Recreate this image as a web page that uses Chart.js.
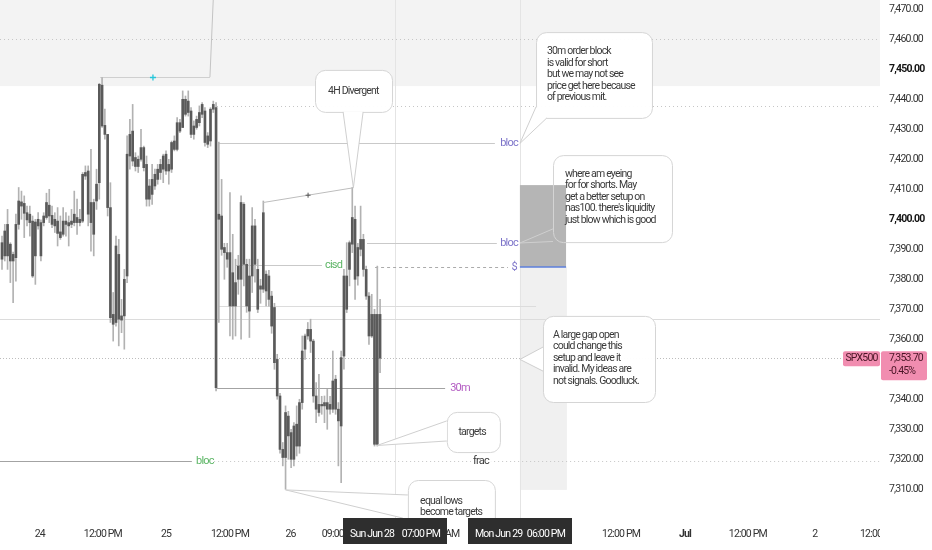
<!DOCTYPE html>
<html>
<head>
<meta charset="utf-8">
<script src="https://cdn.jsdelivr.net/npm/chart.js@4.4.1/dist/chart.umd.min.js"></script>
<style>
html,body{margin:0;padding:0;background:#fff;overflow:hidden}
#wrap{width:932px;height:550px;position:relative}
</style>
</head>
<body>
<div id="wrap"><canvas id="c" width="932" height="550"></canvas></div>
<script>
// ---------- DATA (30m candles, index 0 = first visible bar) ----------
const opens = [
7392.2,7387.8,7398.3,7391.7,7386.1,7387.2,7398.3,7405.8,7405.3,7402.2,
7398.9,7399.4,7387.8,7400.0,7398.9,7398.9,7400.6,7404.7,7401.3,7400.0,
7399.4,7395.8,7395.0,7399.4,7398.9,7398.3,7398.9,7400.6,7398.9,7399.4,
7415.6,7416.1,7398.9,7405.6,7406.1,7412.2,7444.7,7431.3,7428.3,7403.9,
7368.3,7365.6,7388.3,7366.4,7367.8,7381.1,7421.1,7429.4,7420.6,7417.6,
7420.0,7423.9,7418.3,7406.7,7408.3,7411.1,7413.3,7415.6,7416.7,7421.7,
7416.1,7416.7,7426.1,7423.3,7432.2,7430.6,7440.0,7435.6,7436.1,7428.3,
7430.6,7432.2,7435.0,7436.1,7427.8,7426.1,7436.7,7437.2,7400.0,7401.1,
7390.6,7388.9,7388.9,7371.1,7378.9,7380.0,7380.0,7405.0,7385.0,7369.4,
7381.1,7397.8,7383.3,7376.7,7376.7,7376.1,7381.1,7374.4,7370.6,7353.3,
7341.1,7323.3,7320.6,7334.4,7328.9,7320.0,7331.7,7324.4,7338.9,7356.7,
7361.1,7363.3,7359.4,7341.1,7335.6,7338.3,7337.8,7336.7,7338.3,7336.7,
7346.7,7336.7,7331.1,7354.4,7381.1,7383.3,7391.7,7400.0,7381.1,7390.0,
7393.3,7383.3,7374.4,7361.1,7368.3,7325.0,7368.3];
const highs = [
7394.4,7398.3,7403.3,7392.2,7389.1,7401.7,7410.6,7409.4,7407.8,7404.4,
7404.4,7401.1,7400.0,7402.2,7399.8,7402.2,7408.7,7410.0,7404.4,7402.2,
7403.9,7401.1,7403.9,7402.2,7401.1,7403.3,7409.4,7406.7,7403.3,7415.6,
7417.8,7417.8,7423.3,7406.7,7416.7,7445.3,7447.2,7436.7,7428.3,7412.2,
7375.6,7394.4,7393.3,7373.3,7383.3,7427.8,7433.3,7438.3,7422.2,7421.1,
7430.0,7424.4,7421.1,7413.3,7418.3,7416.7,7418.3,7420.0,7421.7,7422.8,
7420.0,7426.1,7427.8,7433.9,7433.3,7442.8,7441.1,7442.8,7437.2,7432.8,
7434.4,7437.8,7438.9,7437.2,7428.9,7437.2,7439.4,7438.9,7425.7,7413.3,
7392.0,7392.0,7408.9,7395.0,7386.7,7388.0,7407.8,7405.6,7386.7,7386.7,
7403.9,7400.0,7386.7,7380.0,7406.1,7382.8,7383.0,7376.0,7372.0,7355.0,
7342.0,7325.6,7337.8,7336.0,7330.0,7332.2,7337.8,7340.0,7361.1,7361.7,
7365.6,7366.7,7360.0,7345.6,7348.3,7341.0,7341.1,7343.3,7341.0,7356.1,
7348.0,7338.9,7356.1,7383.3,7392.2,7392.8,7410.6,7404.4,7392.0,7404.4,
7395.0,7384.4,7375.6,7375.0,7370.0,7384.4,7373.3];
const lows = [
7383.3,7386.1,7383.3,7378.9,7372.2,7379.4,7396.7,7400.0,7393.9,7397.8,
7394.4,7380.6,7378.3,7396.7,7386.1,7397.8,7400.0,7398.9,7397.2,7395.6,
7391.1,7393.3,7394.4,7394.4,7391.1,7397.2,7397.8,7395.0,7397.8,7398.9,
7413.3,7397.8,7389.4,7387.8,7403.3,7406.7,7430.6,7426.7,7401.1,7365.6,
7359.4,7364.4,7357.8,7362.2,7356.7,7378.9,7416.7,7417.8,7416.1,7415.6,
7419.4,7416.1,7404.4,7404.4,7405.0,7410.0,7411.7,7413.3,7412.2,7415.0,
7411.7,7415.6,7422.8,7422.8,7428.9,7430.6,7434.4,7434.4,7427.2,7426.7,
7430.0,7431.1,7433.9,7424.4,7423.9,7424.4,7435.6,7342.8,7365.6,7388.0,
7380.0,7384.0,7361.1,7360.0,7361.1,7375.0,7360.0,7377.8,7369.0,7360.6,
7375.6,7379.0,7368.9,7372.0,7375.6,7371.1,7371.0,7362.0,7350.0,7340.0,
7322.0,7317.8,7310.0,7320.0,7317.2,7317.8,7321.1,7322.0,7336.7,7353.3,
7360.0,7355.6,7339.0,7332.2,7334.4,7335.0,7332.2,7330.0,7335.0,7335.6,
7335.0,7317.8,7312.2,7350.0,7368.9,7377.8,7388.9,7373.3,7378.0,7387.8,
7381.0,7373.3,7358.3,7360.6,7324.4,7324.4,7348.9];
const closes = [
7386.7,7396.1,7387.8,7386.1,7388.3,7398.3,7406.1,7404.4,7402.0,7399.8,
7401.7,7381.1,7399.1,7397.8,7387.8,7401.1,7405.6,7401.1,7398.3,7397.8,
7395.3,7393.9,7399.4,7398.3,7397.8,7399.4,7401.7,7398.9,7400.0,7415.0,
7414.4,7401.7,7405.6,7395.0,7411.7,7445.0,7431.1,7428.3,7403.9,7367.2,
7365.0,7391.1,7366.7,7367.8,7380.0,7421.7,7428.3,7419.4,7417.6,7420.0,
7423.9,7417.2,7406.7,7411.1,7413.3,7415.0,7416.7,7418.3,7421.1,7416.1,
7418.3,7425.6,7423.3,7432.2,7429.4,7440.0,7435.0,7439.4,7428.3,7431.1,
7433.3,7435.6,7438.3,7425.6,7425.0,7436.7,7438.3,7343.9,7401.7,7390.0,
7388.9,7386.7,7371.1,7382.2,7371.1,7384.4,7405.6,7385.0,7371.1,7381.1,
7397.8,7385.0,7370.0,7377.8,7402.2,7381.7,7373.3,7364.4,7352.2,7341.1,
7323.3,7320.6,7335.6,7327.8,7320.0,7331.1,7324.4,7338.9,7356.1,7361.1,
7363.3,7359.4,7341.1,7336.7,7338.3,7337.8,7338.9,7338.9,7336.7,7346.1,
7336.7,7332.8,7353.9,7381.1,7370.0,7392.2,7400.6,7380.0,7390.6,7393.3,
7383.3,7374.4,7361.1,7368.3,7325.0,7368.3,7353.7];

const yTicks = [7310,7320,7330,7340,7350,7360,7370,7380,7390,7400,7410,7420,7430,7440,7450,7460,7470];
const yBold = [7400, 7450];
const xTickPos  = [13.6, 36.3, 59.0, 82.0, 103.8, 121.9, 157.6, 222.7, 245.7, 268.3, 292.4, 315.5];
const xTickText = ['24','12:00 PM','25','12:00 PM','26','09:00 AM','06:00 AM','12:00 PM','Jul','12:00 PM','2','12:00 PM'];
const xBold = ['Jul'];

const symbol = 'SPX500';
const lastPrice = 7353.70;
const changePct = -0.45;

// date markers on the time axis (bar index)
const dateMarks = [
  {i: 141.2, d: 'Sun Jun 28', t: '07:00 PM'},
  {i: 186.3, d: 'Mon Jun 29', t: '06:00 PM'}
];

// horizontal drawings: price, from bar, to bar (null = chart edge)
const levels = [
  {p: 7460.0, from: null,  to: null,  kind: 'dot'},
  {p: 7447.4, from: 35.3,  to: 74.8,  kind: 'thin'},
  {p: 7437.8, from: 75.9,  to: null,  kind: 'dot'},
  {p: 7425.4, from: 77.7,  to: 177.3, kind: 'solid'},
  {p: 7392.0, from: 131.3, to: 178.0, kind: 'solid'},
  {p: 7384.8, from: 83.8,  to: 115.1, kind: 'solid'},
  {p: 7384.1, from: 134.2, to: 182.0, kind: 'dash'},
  {p: 7371.0, from: 77.7,  to: 192.1, kind: 'faint'},
  {p: 7366.7, from: null,  to: null,  kind: 'faint'},
  {p: 7353.7, from: null,  to: null,  kind: 'pdot'},
  {p: 7343.8, from: 77.3,  to: 159.4, kind: 'dark'},
  {p: 7319.4, from: null,  to: 68.3,  kind: 'dark'},
  {p: 7319.4, from: 76.3,  to: null,  kind: 'dot'}
];
const tags = [
  {t: 'bloc', i: 182.4, p: 7425.4, c: 'purple', align: 'center'},
  {t: 'bloc', i: 182.4, p: 7392.0, c: 'purple', align: 'center'},
  {t: '$',    i: 184.2, p: 7384.1, c: 'purple', align: 'center'},
  {t: 'cisd', i: 116.2, p: 7384.8, c: 'green',  align: 'left'},
  {t: '30m',  i: 161.2, p: 7343.8, c: 'magenta',align: 'left'},
  {t: 'bloc', i: 73.0,  p: 7319.4, c: 'green',  align: 'center'},
  {t: 'frac', i: 172.3, p: 7319.4, c: 'text',   align: 'center'}
];
const callouts = [
  {lines: ['30m order block','is valid for short','but we may not see','price get here because','of previous mit.'],
   box: [192.1, 7462.4, 233.8, 7433.8], tip: [186.3, 7425.3], base: [[192.1, 7437.5], [196.0, 7433.8]],
   tx: 196.0, ty: 7455.9, align: 'left', fill: true},
  {lines: ['4H Divergent'],
   box: [112.6, 7449.8, 140.3, 7435.8], tip: [126.4, 7410.5], base: [[122.7, 7435.8], [129.9, 7435.8]],
   tx: 126.4, ty: 7442.8, align: 'center', fill: true},
  {lines: ['where am eyeing','for for shorts. May','get a better setup on',"nas100. there's liquidity",'just blow which is good'],
   box: [198.2, 7421.4, 241.0, 7392.4], tip: [186.3, 7392.1], base: [[198.2, 7396.8], [198.2, 7392.6]],
   tx: 202.5, ty: 7415.0, align: 'left', fill: false},
  {lines: ['A large gap open','could change this','setup and leave it','invalid. My ideas are','not signals. Goodluck.'],
   box: [194.6, 7367.8, 234.9, 7339.1], tip: [186.3, 7353.3], base: [[194.6, 7357.4], [194.6, 7349.4]],
   tx: 198.2, ty: 7361.4, align: 'left', fill: true},
  {lines: ['targets'],
   box: [160.0, 7335.8, 179.1, 7322.4], tip: [134.9, 7324.6], base: [[160.0, 7332.8], [160.0, 7326.1]],
   tx: 169.1, ty: 7329.1, align: 'center', fill: true},
  {lines: ['equal lows','become targets'],
   box: [146.0, 7313.1, 177.3, 7294.0], tip: [102.0, 7309.8], base: [[146.0, 7308.1], [144.2, 7300.4]],
   tx: 150.4, ty: 7306.1, align: 'left', fill: true, step: 11}
];
const divergence = {from: [94.0, 7405.6], to: [126.4, 7410.5], mark: 110.1};
const pointerUp = {from: [74.8, 7447.4], to: [76.3, 7480]};
const crossMark = {i: 54.3, p: 7447.4};
const topZone = {pLow: 7444.4};
const zoneBox = {i0: 186.3, i1: 202.9, pLow: 7384.1, pHigh: 7411.4};
const zoneColumn = {i0: 186.3, i1: 203.2, pLow: 7309.8, pHigh: 7384.1};
const vLines = [141.2, 186.3];

// ---------- STYLE ----------
const FONT = 'Roboto';
const levelStyles = {
  dot:   {color: '#c6c6c6', dash: [1, 3]},
  pdot:  {color: '#bdbdbd', dash: [1, 2]},
  thin:  {color: '#cfcfcf'},
  solid: {color: '#c9c9c9'},
  faint: {color: '#dcdcdc'},
  dash:  {color: '#ababab', dash: [3, 3]},
  dark:  {color: '#a3a3a3'}
};
const tagColors = {purple: '#7d74c9', green: '#5cb565', magenta: '#b35cc2', text: '#3a3a3a'};

Chart.defaults.font.family = FONT;

const idx = opens.map((_, i) => i);
const bodyData = idx.map(i => ({x: i, y: [Math.min(opens[i], closes[i]), Math.max(opens[i], closes[i])]}));
const wickData = idx.map(i => ({x: i, y: [lows[i], highs[i]]}));

function rr(ctx, x, y, w, h, r) {
  ctx.beginPath();
  ctx.moveTo(x + r, y);
  ctx.arcTo(x + w, y, x + w, y + h, r);
  ctx.arcTo(x + w, y + h, x, y + h, r);
  ctx.arcTo(x, y + h, x, y, r);
  ctx.arcTo(x, y, x + w, y, r);
  ctx.closePath();
}
function clipArea(ctx, a) {
  ctx.beginPath(); ctx.rect(a.left, a.top, a.right - a.left, a.bottom - a.top); ctx.clip();
}

const overlay = {
  id: 'overlay',
  beforeDraw(chart) { chart.ctx.letterSpacing = '-0.8px'; },
  beforeDatasetsDraw(chart) {
    const {ctx, chartArea: a} = chart;
    const X = v => chart.scales.x.getPixelForValue(v), Y = v => chart.scales.y.getPixelForValue(v);
    ctx.save(); clipArea(ctx, a);
    // top zone
    ctx.fillStyle = '#f3f3f3';
    ctx.fillRect(a.left, a.top, a.right - a.left, Y(topZone.pLow) - a.top);
    // projection column
    ctx.fillStyle = '#f0f0f0';
    ctx.fillRect(X(zoneColumn.i0), Y(zoneColumn.pHigh), X(zoneColumn.i1) - X(zoneColumn.i0), Y(zoneColumn.pLow) - Y(zoneColumn.pHigh));
    // vertical date lines
    ctx.strokeStyle = '#e4e4e4'; ctx.lineWidth = 1;
    vLines.forEach(v => { const xx = Math.round(X(v)) + 0.5; ctx.beginPath(); ctx.moveTo(xx, a.top); ctx.lineTo(xx, a.bottom); ctx.stroke(); });
    // horizontal levels
    levels.forEach(l => {
      const st = levelStyles[l.kind];
      const yy = Math.round(Y(l.p)) + 0.5;
      const x0 = l.from == null ? a.left : X(l.from);
      const x1 = l.to == null ? a.right : X(l.to);
      ctx.strokeStyle = st.color; ctx.setLineDash(st.dash || []);
      ctx.beginPath(); ctx.moveTo(x0, yy); ctx.lineTo(x1, yy); ctx.stroke();
    });
    ctx.setLineDash([]);
    ctx.restore();
  },
  afterDatasetsDraw(chart) {
    const {ctx, chartArea: a} = chart;
    const X = v => chart.scales.x.getPixelForValue(v), Y = v => chart.scales.y.getPixelForValue(v);
    ctx.save(); clipArea(ctx, a);
    ctx.letterSpacing = '-0.8px';
    // pointer line going off the top
    ctx.strokeStyle = '#c4c4c4'; ctx.lineWidth = 1;
    ctx.beginPath(); ctx.moveTo(X(pointerUp.from[0]), Y(pointerUp.from[1])); ctx.lineTo(X(pointerUp.to[0]), Y(pointerUp.to[1])); ctx.stroke();
    // cyan cross
    const cx = X(crossMark.i), cy = Math.round(Y(crossMark.p)) + 0.5;
    ctx.strokeStyle = '#26c6da'; ctx.lineWidth = 1.3;
    ctx.beginPath(); ctx.moveTo(cx - 3, cy); ctx.lineTo(cx + 3, cy); ctx.moveTo(cx, cy - 3); ctx.lineTo(cx, cy + 3); ctx.stroke();
    // divergence line
    ctx.strokeStyle = '#bdbdbd'; ctx.lineWidth = 1;
    ctx.beginPath(); ctx.moveTo(X(divergence.from[0]), Y(divergence.from[1])); ctx.lineTo(X(divergence.to[0]), Y(divergence.to[1])); ctx.stroke();
    const t = (divergence.mark - divergence.from[0]) / (divergence.to[0] - divergence.from[0]);
    const mx = X(divergence.mark), my = Y(divergence.from[1] + t * (divergence.to[1] - divergence.from[1]));
    ctx.strokeStyle = '#555'; ctx.lineWidth = 1;
    ctx.beginPath(); ctx.moveTo(mx - 2.5, my); ctx.lineTo(mx + 2.5, my); ctx.moveTo(mx, my - 2.5); ctx.lineTo(mx, my + 2.5); ctx.stroke();
    // dark zone box
    const bx0 = X(zoneBox.i0), bx1 = X(zoneBox.i1), by0 = Y(zoneBox.pHigh), by1 = Y(zoneBox.pLow);
    ctx.fillStyle = '#b5b5b5'; ctx.fillRect(bx0, by0, bx1 - bx0, by1 - by0);
    ctx.strokeStyle = '#5d7fdc'; ctx.lineWidth = 1.5;
    ctx.beginPath(); ctx.moveTo(bx0, by1); ctx.lineTo(bx1, by1); ctx.stroke();
    // tags
    ctx.font = '11px ' + FONT; ctx.textBaseline = 'middle';
    tags.forEach(g => {
      const gx = X(g.i), gy = Y(g.p);
      ctx.textAlign = g.align;
      if (g.c === 'text') {
        const w = ctx.measureText(g.t).width;
        ctx.fillStyle = '#fff'; ctx.fillRect(gx - w / 2 - 2, gy - 6, w + 4, 12);
      }
      ctx.fillStyle = tagColors[g.c];
      ctx.fillText(g.t, gx, gy);
    });
    // callouts
    callouts.forEach(c => {
      const x0 = X(c.box[0]), y0 = Y(c.box[1]), x1 = X(c.box[2]), y1 = Y(c.box[3]);
      const tx = X(c.tip[0]), ty = Y(c.tip[1]);
      const b0 = [X(c.base[0][0]), Y(c.base[0][1])], b1 = [X(c.base[1][0]), Y(c.base[1][1])];
      rr(ctx, x0 + 0.5, y0 + 0.5, x1 - x0, y1 - y0, 10);
      if (c.fill) { ctx.fillStyle = 'rgba(255,255,255,0.96)'; ctx.fill(); }
      ctx.strokeStyle = '#d5d5d5'; ctx.lineWidth = 1; ctx.stroke();
      ctx.beginPath(); ctx.moveTo(b0[0], b0[1]); ctx.lineTo(tx, ty); ctx.lineTo(b1[0], b1[1]); ctx.closePath();
      if (c.fill) { ctx.fillStyle = '#fff'; ctx.fill(); }
      ctx.beginPath(); ctx.moveTo(b0[0], b0[1]); ctx.lineTo(tx, ty); ctx.lineTo(b1[0], b1[1]);
      ctx.strokeStyle = '#cfcfcf'; ctx.stroke();
      ctx.fillStyle = '#3b3b3b'; ctx.font = '10.5px ' + FONT; ctx.textBaseline = 'middle';
      ctx.textAlign = c.align;
      const step = c.step || 11.5;
      const tyy = Y(c.ty);
      c.lines.forEach((ln, k) => ctx.fillText(ln, X(c.tx), tyy + k * step));
    });
    ctx.restore();
  },
  afterDraw(chart) {
    const {ctx, chartArea: a} = chart;
    const X = v => chart.scales.x.getPixelForValue(v), Y = v => chart.scales.y.getPixelForValue(v);
    ctx.save();
    ctx.letterSpacing = '-0.8px';
    // hide the overflow of the last time label under the price scale
    ctx.fillStyle = '#fff'; ctx.fillRect(a.right, a.bottom, chart.width - a.right, chart.height - a.bottom);
    // date markers on the time axis
    ctx.font = '10.5px ' + FONT; ctx.textBaseline = 'middle';
    dateMarks.forEach(m => {
      const w = 104, bx = Math.round(X(m.i) - w / 2);
      ctx.fillStyle = '#2e2e2e'; ctx.fillRect(bx, a.bottom, w, 26);
      ctx.fillStyle = '#ffffff';
      ctx.textAlign = 'left'; ctx.fillText(m.d, bx + 7, a.bottom + 16);
      ctx.textAlign = 'right'; ctx.fillText(m.t, bx + w - 7, a.bottom + 16);
    });
    // last price labels
    const py = Y(lastPrice);
    ctx.fillStyle = '#f18db0';
    rr(ctx, a.right + 1, py - 7, 46, 29, 2); ctx.fill();
    rr(ctx, a.right - 37, py - 7, 37, 15, 2); ctx.fill();
    ctx.fillStyle = '#4a1526'; ctx.font = '10.5px ' + FONT; ctx.textAlign = 'left';
    ctx.fillText(lastPrice.toLocaleString('en-US', {minimumFractionDigits: 2, maximumFractionDigits: 2}), a.right + 9, py + 0.5);
    ctx.fillText((changePct > 0 ? '+' : '') + changePct.toFixed(2) + '%', a.right + 9, py + 13);
    ctx.textAlign = 'center';
    ctx.fillText(symbol, a.right - 18.5, py + 0.5);
    ctx.restore();
    chart.ctx.letterSpacing = '0px';
  }
};

new Chart(document.getElementById('c'), {
  type: 'bar',
  data: {
    datasets: [
      {label: 'body', data: bodyData, backgroundColor: '#5a5a5a', barThickness: 2, grouped: false, minBarLength: 1, borderWidth: 0, order: 0},
      {label: 'wick', data: wickData, backgroundColor: '#b2b2b2', barThickness: 1, grouped: false, borderWidth: 0, order: 1}
    ]
  },
  options: {
    responsive: false,
    animation: false,
    devicePixelRatio: 1,
    layout: {padding: 0},
    plugins: {legend: {display: false}, tooltip: {enabled: false}},
    scales: {
      x: {
        type: 'linear', min: -0.72, max: 315.83, offset: false,
        grid: {display: false, drawTicks: false}, border: {display: false},
        afterBuildTicks: s => { s.ticks = xTickPos.map(v => ({value: v})); },
        afterFit: s => { s.height = 32; s.paddingLeft = 0; s.paddingRight = 0; },
        ticks: {
          autoSkip: false, maxRotation: 0, minRotation: 0, padding: 10, color: '#333',
          font: c => ({family: FONT, size: 10.5, weight: xBold.includes(xTickText[c.index]) ? 'bold' : 'normal'}),
          callback: (v, i) => xTickText[i]
        }
      },
      y: {
        type: 'linear', position: 'right', min: 7300.43, max: 7473.1,
        grid: {display: false, drawTicks: false}, border: {display: false},
        afterBuildTicks: s => { s.ticks = yTicks.map(v => ({value: v})); },
        afterFit: s => { s.width = 52; s.paddingTop = 0; s.paddingBottom = 0; },
        ticks: {
          padding: 9,
          color: c => (c.tick && yBold.includes(c.tick.value)) ? '#131313' : '#333',
          font: c => ({family: FONT, size: 10.5, weight: (c.tick && yBold.includes(c.tick.value)) ? 'bold' : 'normal'}),
          callback: v => Number(v).toLocaleString('en-US', {minimumFractionDigits: 2, maximumFractionDigits: 2})
        }
      }
    }
  },
  plugins: [overlay]
});
</script>
</body>
</html>
